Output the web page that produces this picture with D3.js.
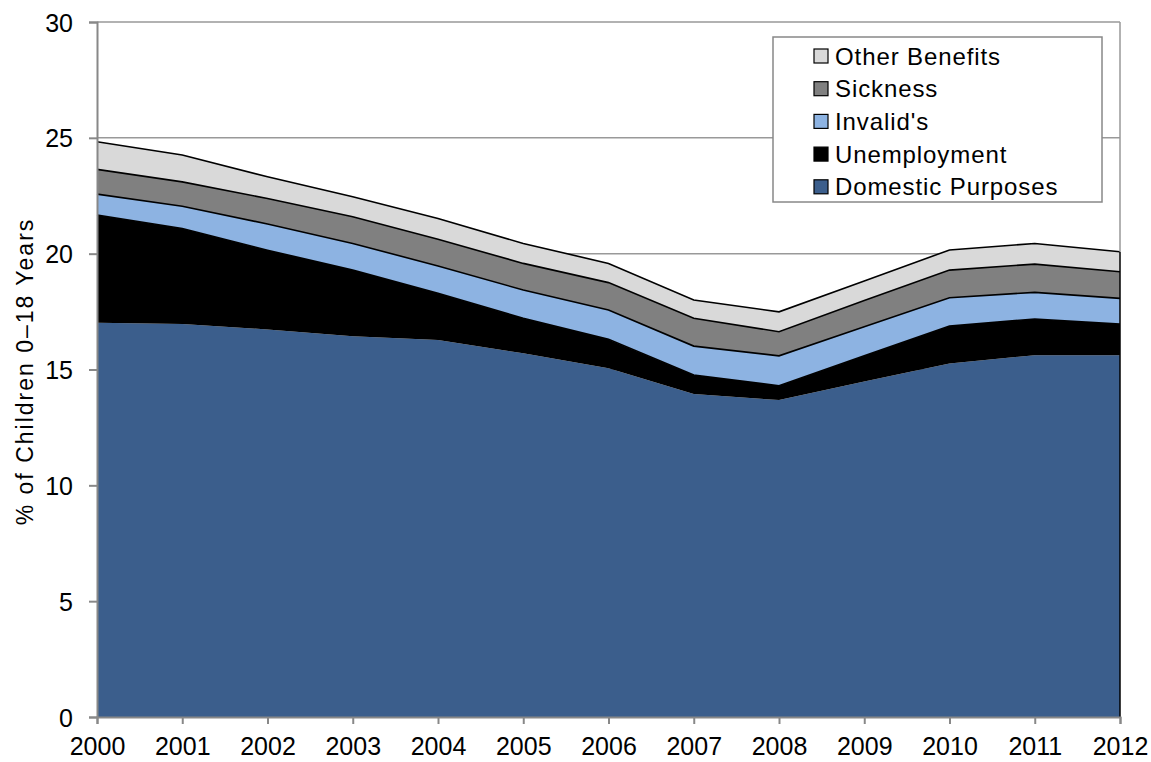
<!DOCTYPE html>
<html><head><meta charset="utf-8">
<script src="https://cdn.jsdelivr.net/npm/d3@7"></script>
<style>body{margin:0;background:#fff;} text{font-family:"Liberation Sans",Arial,sans-serif;}</style>
</head><body><svg id="c" width="1151" height="762"></svg>
<script>
const years = [2000,2001,2002,2003,2004,2005,2006,2007,2008,2009,2010,2011,2012];
const domestic     = [17.02,16.96,16.73,16.44,16.27,15.70,15.05,13.94,13.68,14.48,15.26,15.62,15.61];
const unemployment = [4.65,4.13,3.42,2.85,2.02,1.51,1.25,0.82,0.62,1.11,1.62,1.56,1.35];
const invalids     = [0.90,0.96,1.13,1.15,1.18,1.22,1.27,1.25,1.29,1.26,1.22,1.15,1.11];
const sickness     = [1.07,1.05,1.10,1.15,1.15,1.15,1.18,1.20,1.04,1.13,1.19,1.22,1.15];
const other        = [1.19,1.16,0.94,0.87,0.90,0.86,0.83,0.79,0.86,0.84,0.87,0.89,0.86];
const seriesNames = ["Domestic Purposes","Unemployment","Invalid's","Sickness","Other Benefits"];
const yTicks = [0,5,10,15,20,25,30];

const colors = {"Domestic Purposes":"#3B5E8C","Unemployment":"#000000","Invalid's":"#8DB3E2","Sickness":"#808080","Other Benefits":"#D9D9D9"};
const seriesVals = [domestic,unemployment,invalids,sickness,other];
const table = years.map((y,i)=>{const o={year:y}; seriesNames.forEach((n,k)=>o[n]=seriesVals[k][i]); return o;});

const svg = d3.select("#c");
const L=97,R=1120,T=22,B=717;
const x = d3.scaleLinear().domain([2000,2012]).range([L,R]);
const y = d3.scaleLinear().domain([0,30]).range([B,T]);

// gridlines
svg.append("g").selectAll("line").data(yTicks.filter(d=>d>0)).join("line")
  .attr("x1",L).attr("x2",R).attr("y1",d=>y(d)).attr("y2",d=>y(d))
  .attr("stroke","#999").attr("stroke-width",1.5);

const stack = d3.stack().keys(seriesNames)(table);
const area = d3.area().x(d=>x(d.data.year)).y0(d=>y(d[0])).y1(d=>y(d[1]));
const topLine = d3.line().x(d=>x(d.data.year)).y(d=>y(d[1]));
svg.append("g").selectAll("path").data(stack).join("path")
  .attr("d",area).attr("fill",d=>colors[d.key]);
svg.append("g").selectAll("path").data(stack.filter(s=>s.key!=="Domestic Purposes")).join("path")
  .attr("d",topLine).attr("fill","none").attr("stroke","#000").attr("stroke-width",1.6);
// right edge
const last = stack[stack.length-1][years.length-1];
svg.append("line").attr("x1",x(2012)).attr("x2",x(2012)).attr("y1",y(last[1])).attr("y2",B)
  .attr("stroke","#000").attr("stroke-width",1.5);
svg.append("line").attr("x1",x(2012)).attr("x2",x(2012)).attr("y1",T).attr("y2",y(last[1]))
  .attr("stroke","#999").attr("stroke-width",1.5);

// axes
const yAxis = svg.append("g").attr("transform",`translate(${L},0)`)
  .call(d3.axisLeft(y).tickValues(yTicks).tickSize(8).tickPadding(16).tickFormat(d3.format("d")));
const xAxis = svg.append("g").attr("transform",`translate(0,${B})`)
  .call(d3.axisBottom(x).tickValues(years).tickSize(7).tickPadding(14).tickFormat(d3.format("d")));
[yAxis,xAxis].forEach(g=>{
  g.select(".domain").attr("stroke","#888").attr("stroke-width",2);
  g.selectAll(".tick line").attr("stroke","#888").attr("stroke-width",2);
  g.selectAll("text").attr("fill","#000").style("font-size","25px").style("font-family","'Liberation Sans',Arial,sans-serif");
});
yAxis.selectAll("text").attr("dy","0.36em");
xAxis.selectAll("text").attr("y",38).attr("dy","0");

svg.append("text").attr("transform",`translate(33,${(T+B)/2+2}) rotate(-90)`)
  .attr("text-anchor","middle").style("font-size","23px").style("letter-spacing","2px").text("% of Children 0\u201318 Years");

// legend
const lg = svg.append("g");
lg.append("rect").attr("x",773).attr("y",37).attr("width",329).attr("height",165)
  .attr("fill","#fff").attr("stroke","#888").attr("stroke-width",1.5);
const legOrder = seriesNames.slice().reverse();
const items = lg.selectAll("g.it").data(legOrder).join("g").attr("class","it")
  .attr("transform",(d,i)=>`translate(814,${56+i*32.7})`);
items.append("rect").attr("x",0).attr("y",-7).attr("width",14).attr("height",14)
  .attr("fill",d=>colors[d]).attr("stroke","#000").attr("stroke-width",1.2);
items.append("text").attr("x",21).attr("y",0).attr("dy","0.36em")
  .style("font-size","24px").style("letter-spacing","0.9px").text(d=>d);
</script></body></html>
